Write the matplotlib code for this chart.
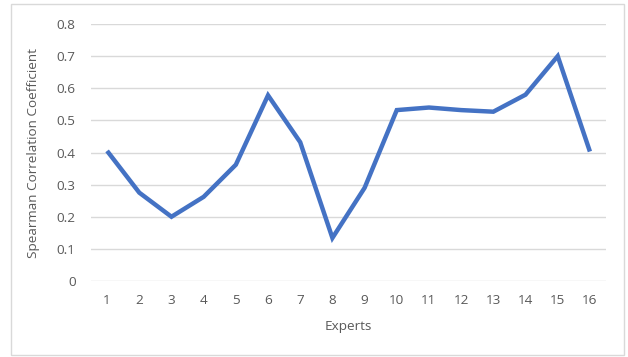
import matplotlib.pyplot as plt
from matplotlib.patches import Rectangle

experts = list(range(1, 17))
spearman = [0.405, 0.275, 0.20, 0.262, 0.362, 0.578, 0.432, 0.134, 0.29,
            0.532, 0.54, 0.532, 0.527, 0.58, 0.70, 0.403]
yticks = [0, 0.1, 0.2, 0.3, 0.4, 0.5, 0.6, 0.7, 0.8]

plt.rcParams['font.family'] = ['Open Sans', 'DejaVu Sans']
text_color = '#595959'
fs = 9.7

fig = plt.figure(figsize=(6.28, 3.57), dpi=100)
ax = fig.add_axes([91 / 628, 1 - 281 / 357, (606 - 91) / 628, (281 - 24) / 357])

# chart border like the Excel chart area
fig.patches.append(Rectangle((11 / 628, 2 / 357), 613 / 628, 351 / 357,
                             transform=fig.transFigure, fill=False,
                             edgecolor='#d9d9d9', linewidth=1))

ax.plot(experts, spearman, color='#4472C4', linewidth=3.2,
        solid_joinstyle='miter', solid_capstyle='butt', zorder=3)

ax.set_xlim(0.5, 16.5)
ax.set_ylim(0, 0.8)
ax.set_xticks(experts)
ax.set_xticklabels([str(e) for e in experts])
ax.set_yticks(yticks)
ax.set_yticklabels(['0'] + [f'{v:.1f}' for v in yticks[1:]])
ax.grid(axis='y', color='#d9d9d9', linewidth=1)
ax.set_axisbelow(True)
for s in ax.spines.values():
    s.set_visible(False)
ax.tick_params(length=0, labelsize=fs, colors=text_color, pad=9)
ax.tick_params(axis='y', pad=11)

ax.set_xlabel('Experts', fontsize=fs, color=text_color, labelpad=10)
ax.set_ylabel('Spearman Correlation Coefficient', fontsize=fs,
              color=text_color, labelpad=12)

plt.savefig('out.png', dpi=100)
